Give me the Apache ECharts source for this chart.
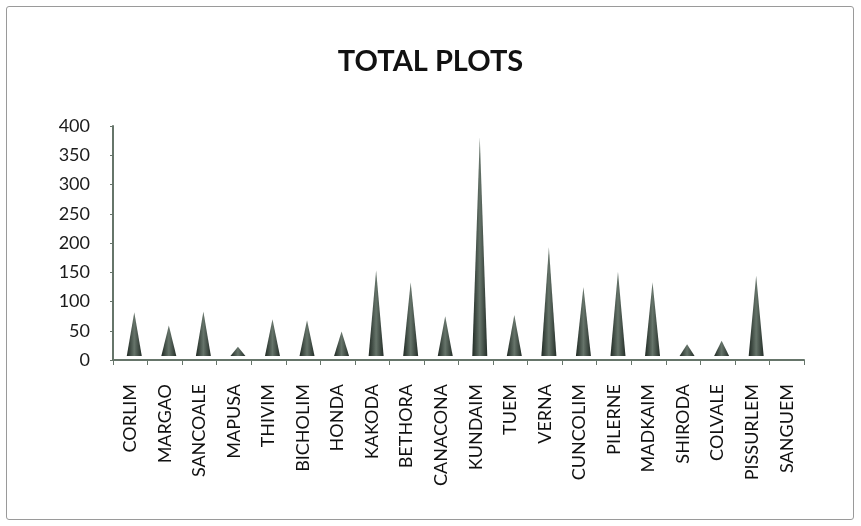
<!DOCTYPE html>
<html>
<head>
<meta charset="utf-8">
<script src="https://cdn.jsdelivr.net/npm/echarts@6/dist/echarts.min.js"></script>
<style>
  html, body { margin: 0; padding: 0; background: #fff; }
  #chart { width: 861px; height: 526px; }
  #frame { position: absolute; left: 6px; top: 6px; width: 846px; height: 512px;
           border: 1px solid #9a9a9a; border-radius: 3px; pointer-events: none; }
</style>
</head>
<body>
<div id="chart"></div>
<div id="frame"></div>
<script>
// villages
var places = ['CORLIM', 'MARGAO', 'SANCOALE', 'MAPUSA', 'THIVIM', 'BICHOLIM', 'HONDA',
  'KAKODA', 'BETHORA', 'CANACONA', 'KUNDAIM', 'TUEM', 'VERNA', 'CUNCOLIM', 'PILERNE',
  'MADKAIM', 'SHIRODA', 'COLVALE', 'PISSURLEM', 'SANGUEM'];
// total plots per estate
var plots = [75, 52, 76, 16, 63, 61, 42, 146, 126, 68, 374, 70, 186, 118, 144, 126, 20, 26, 137, 0];

var chart = echarts.init(document.getElementById('chart'));

// cone look: dark edges, lighter middle
var coneFill = new echarts.graphic.LinearGradient(0, 0, 1, 0, [
  { offset: 0, color: '#1f2923' },
  { offset: 0.5, color: '#66746a' },
  { offset: 1, color: '#242e28' }
]);

chart.setOption({
  animation: false,
  title: {
    text: 'TOTAL PLOTS',
    left: 'center',
    top: 42,
    textStyle: { fontFamily: 'Lato', fontWeight: 'bold', fontSize: 29, color: '#111' }
  },
  grid: { left: 113, right: 57, top: 126, bottom: 166 },
  xAxis: {
    type: 'category',
    data: places,
    axisLine: { lineStyle: { color: '#66756a', width: 2 } },
    axisTick: { show: true, length: 5, lineStyle: { color: '#66756a' } },
    axisLabel: {
      rotate: 90,
      interval: 0,
      margin: 24,
      fontFamily: 'Lato',
      fontSize: 18,
      color: '#111'
    }
  },
  yAxis: {
    type: 'value',
    min: 0,
    max: 400,
    interval: 50,
    splitLine: { show: false },
    axisLine: { show: true, lineStyle: { color: '#66756a', width: 2 } },
    axisTick: { show: true, length: 3, lineStyle: { color: '#66756a' } },
    axisLabel: { fontFamily: 'Lato', fontSize: 18, color: '#1a1a1a', margin: 23 }
  },
  series: [{
    type: 'pictorialBar',
    data: plots,
    symbol: 'triangle',
    symbolSize: [15, '100%'],
    symbolOffset: [4, -4],
    itemStyle: { color: coneFill }
  }]
});
</script>
</body>
</html>
